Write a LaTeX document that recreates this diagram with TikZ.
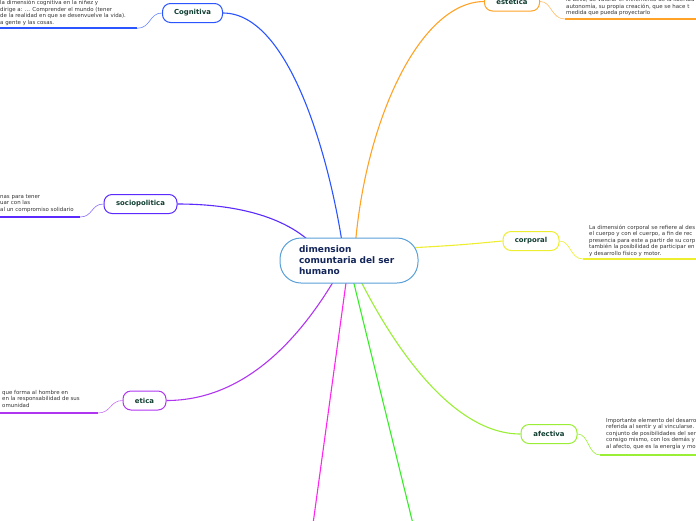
\documentclass[tikz,border=0pt]{standalone}
\usepackage{fontspec}
\setmainfont{DejaVu Sans}
\usetikzlibrary{backgrounds}
\definecolor{cblue}{HTML}{2A55FF}
\definecolor{corange}{HTML}{FFA226}
\definecolor{csocio}{HTML}{5A2AFF}
\definecolor{cyellow}{HTML}{EEEE30}
\definecolor{cetica}{HTML}{B035F0}
\definecolor{cafect}{HTML}{9AEE35}
\definecolor{cmag}{HTML}{FF25EE}
\definecolor{cgreen}{HTML}{35EE25}
\definecolor{croot}{HTML}{5AA0D8}
\definecolor{labelgreen}{HTML}{0F3D30}
\definecolor{roottext}{HTML}{14265A}
\definecolor{notegray}{HTML}{333333}
\tikzset{
  topic/.style={draw, line width=1pt, rounded corners=8pt, fill=white, minimum height=19pt, inner sep=0pt, text=labelgreen, font=\fontsize{6.9}{8}\selectfont\bfseries},
  note/.style={anchor=north west, inner sep=0pt, align=left, text=notegray, font=\fontsize{5.45}{6.5}\selectfont},
  link/.style={line width=1.1pt},
  uline/.style={line width=1.8pt},
  tie/.style={line width=0.6pt},
}
\begin{document}
\begin{tikzpicture}[x=1pt,y=-1pt]
\useasboundingbox (0,0) rectangle (696,520);
\clip (0,0) rectangle (696,520);

% root
\node[draw=croot, line width=1pt, rounded corners=21pt, fill=white, minimum width=138pt, minimum height=45pt,
      inner xsep=19pt, inner ysep=0pt, text width=100pt, align=left, text=roottext,
      font=\fontsize{9}{11}\selectfont\bfseries] (root) at (349,260.5) {dimension\\comuntaria del ser\\humano};

% topics
\node[topic, draw=cblue, minimum width=60pt] (cog) at (192.5,13) {Cognitiva};
\node[topic, draw=corange, minimum width=55pt] (est) at (512,1.5) {estetica};
\node[topic, draw=csocio, minimum width=73pt] (soc) at (140.5,204) {sociopolitica};
\node[topic, draw=cyellow, minimum width=56pt] (cor) at (531,241) {corporal};
\node[topic, draw=cetica, minimum width=43pt] (eti) at (144.5,400.5) {etica};
\node[topic, draw=cafect, minimum width=56pt] (afe) at (549,434) {afectiva};

% free ends
\coordinate (magend) at (313,524);
\coordinate (greend) at (413,524);
\coordinate (cogU) at (137,28.3);  \coordinate (cogU0) at (-2,28.3);
\coordinate (estU) at (565,19);    \coordinate (estU1) at (698,19);
\coordinate (socU) at (80,217);    \coordinate (socU0) at (-2,217);
\coordinate (corU) at (583,259);   \coordinate (corU1) at (698,259);
\coordinate (etiU) at (98,413);    \coordinate (etiU0) at (-2,413);
\coordinate (afeU) at (600,455);   \coordinate (afeU1) at (698,455);

% notes
\node[note] (cogT) at (0,0) {la dimensión cognitiva en la niñez y\\dirige a: ... Comprender el mundo (tener\\de la realidad en que se desenvuelve la vida).\\a gente y las cosas.};
\node[note] (estT) at (566,-2.5) {lo bello, de valorar el incremento de la libertad\\autonomía, su propia creación, que se hace t\\medida que pueda proyectarlo};
\node[note] (socT) at (0,194) {nas para tener\\uar con las\\al un compromiso solidario};
\node[note] (corT) at (589,224.5) {La dimensión corporal se refiere al des\\el cuerpo y con el cuerpo, a fin de rec\\presencia para este a partir de su corp\\también la posibilidad de participar en\\y desarrollo físico y motor.};
\node[note] (etiT) at (2,390) {que forma al hombre en\\en la responsabilidad de sus\\omunidad};
\node[note] (afeT) at (606,418) {Importante elemento del desarro\\referida al sentir y al vincularse.\\conjunto de posibilidades del ser\\consigo mismo, con los demás y\\al afecto, que es la energía y mo};

\begin{pgfonlayer}{background}
% main connectors
\draw[link, cblue] (cog.east) .. controls (290,13) and (330,160) .. ([xshift=-6pt,yshift=12pt]root.center);
\draw[link, corange] (est.west) .. controls (420,2) and (365,120) .. ([xshift=6pt,yshift=12pt]root.center);
\draw[link, csocio] (soc.east) .. controls (232,204) and (285,215) .. ([xshift=-34pt,yshift=14pt]root.center);
\draw[link, cyellow] ([xshift=-10pt,yshift=12.5pt]root.east) .. controls (460,245) .. (cor.west);
\draw[link, cetica] (eti.east) .. controls (250,400.5) and (305,330) .. ([xshift=-12pt,yshift=-15pt]root.center);
\draw[link, cafect] ([xshift=9pt,yshift=-15pt]root.center) .. controls (390,340) and (450,434) .. (afe.west);
\draw[link, cmag] ([xshift=-2pt,yshift=-15pt]root.center) -- (magend);
\draw[link, cgreen] ([xshift=3pt,yshift=-15pt]root.center) -- (greend);
% underlines and ties
\draw[uline, cblue] (cogU0) -- (cogU);
\draw[tie, cblue!70] (cogU) .. controls (151,28.3) and (149,13) .. (cog.west);
\draw[uline, corange] (estU) -- (estU1);
\draw[tie, corange!70] (est.east) .. controls (552,1.5) and (551,19) .. (estU);
\draw[uline, csocio] (socU0) -- (socU);
\draw[tie, csocio!70] (socU) .. controls (93,217) and (91,204) .. (soc.west);
\draw[uline, cyellow] (corU) -- (corU1);
\draw[tie, cyellow] (cor.east) .. controls (571,241) and (570,259) .. (corU);
\draw[uline, cetica] (etiU0) -- (etiU);
\draw[tie, cetica!70] (etiU) .. controls (111,413) and (110,400.5) .. (eti.west);
\draw[uline, cafect] (afeU) -- (afeU1);
\draw[tie, cafect] (afe.east) .. controls (589,434) and (588,455) .. (afeU);
\end{pgfonlayer}
\end{tikzpicture}
\end{document}
